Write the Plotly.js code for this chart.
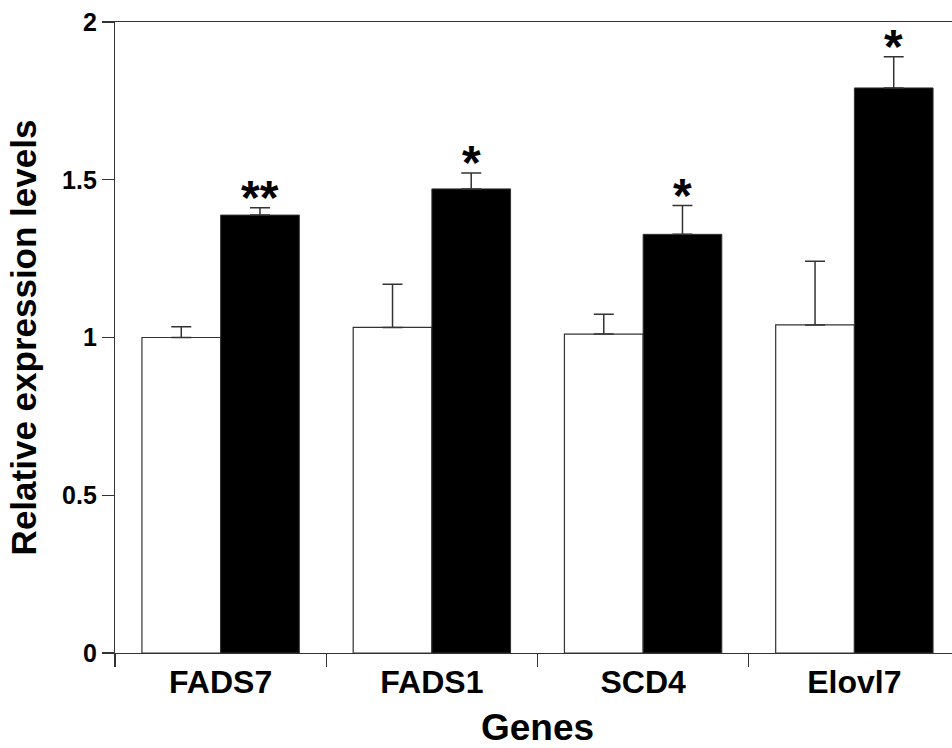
<!DOCTYPE html>
<html>
<head>
<meta charset="utf-8">
<script src="https://cdn.plot.ly/plotly-3.0.1.min.js"></script>
<style>
html, body { margin: 0; padding: 0; overflow: hidden; background: #fff; }
#chart { width: 960px; height: 748px; }
</style>
</head>
<body>
<div id="chart"></div>
<script>
const genes = ["FADS7", "FADS1", "SCD4", "Elovl7"];
const controlValues = [1.00, 1.032, 1.011, 1.040];
const controlErrors = [0.034, 0.137, 0.063, 0.202];
const treatedValues = [1.388, 1.471, 1.327, 1.791];
const treatedErrors = [0.023, 0.050, 0.091, 0.099];
const significance = ["**", "*", "*", "*"];
const yTickValues = [0, 0.5, 1, 1.5, 2];
const yTickLabels = ["0", "0.5", "1", "1.5", "2"];

const FONT = "Liberation Sans, Arial, Helvetica, sans-serif";
const BARGAP = 0.255;
const lineColor = "#333";

const zeros = genes.map(() => 0);

const traces = [
  {
    type: "bar", x: genes, y: controlValues, name: "Control",
    marker: { color: "#ffffff", line: { color: lineColor, width: 1.2 } },
    error_y: { type: "data", array: controlErrors, arrayminus: zeros, symmetric: false,
               color: lineColor, thickness: 1.5, width: 10 },
    hoverinfo: "skip"
  },
  {
    type: "bar", x: genes, y: treatedValues, name: "Treated",
    marker: { color: "#000000", line: { color: lineColor, width: 1 } },
    error_y: { type: "data", array: treatedErrors, arrayminus: zeros, symmetric: false,
               color: lineColor, thickness: 1.5, width: 10 },
    hoverinfo: "skip"
  }
];

const offset = (1 - BARGAP) / 4;
const annotations = genes.map((g, i) => ({
  x: i + offset, y: treatedValues[i] + treatedErrors[i],
  xref: "x", yref: "y",
  text: "<b>" + significance[i] + "</b>", showarrow: false,
  yanchor: "bottom", yshift: -18,
  font: { family: FONT, size: 48, color: "#000" }
}));

const layout = {
  width: 960, height: 748,
  margin: { l: 115, r: 0, t: 22, b: 95, pad: 0 },
  paper_bgcolor: "#fff", plot_bgcolor: "#fff",
  showlegend: false,
  barmode: "group", bargap: BARGAP, bargroupgap: 0,
  font: { family: FONT, color: "#000" },
  xaxis: {
    type: "category", range: [-0.5, 3.5],
    showline: true, linecolor: lineColor, linewidth: 1.2, mirror: true,
    ticks: "outside", tickson: "boundaries", ticklen: 13, tickwidth: 1.2, tickcolor: lineColor,
    showgrid: false, zeroline: false,
    tickfont: { family: FONT, size: 32, color: "#000", weight: "bold" },
    title: { text: "<b>Genes</b>", font: { family: FONT, size: 37, color: "#000" }, standoff: 18 }
  },
  yaxis: {
    range: [0, 2], tickvals: yTickValues, ticktext: yTickLabels,
    showline: true, linecolor: lineColor, linewidth: 1.2,
    ticks: "outside", ticklen: 12, tickwidth: 1.2, tickcolor: lineColor,
    showgrid: false, zeroline: false,
    tickfont: { family: FONT, size: 25, color: "#000", weight: "bold" },
    title: { text: "<b>Relative expression levels</b>", font: { family: FONT, size: 35, color: "#000" }, standoff: 14 }
  },
  annotations: annotations
};

Plotly.newPlot("chart", traces, layout, { displayModeBar: false, staticPlot: true });
</script>
</body>
</html>
